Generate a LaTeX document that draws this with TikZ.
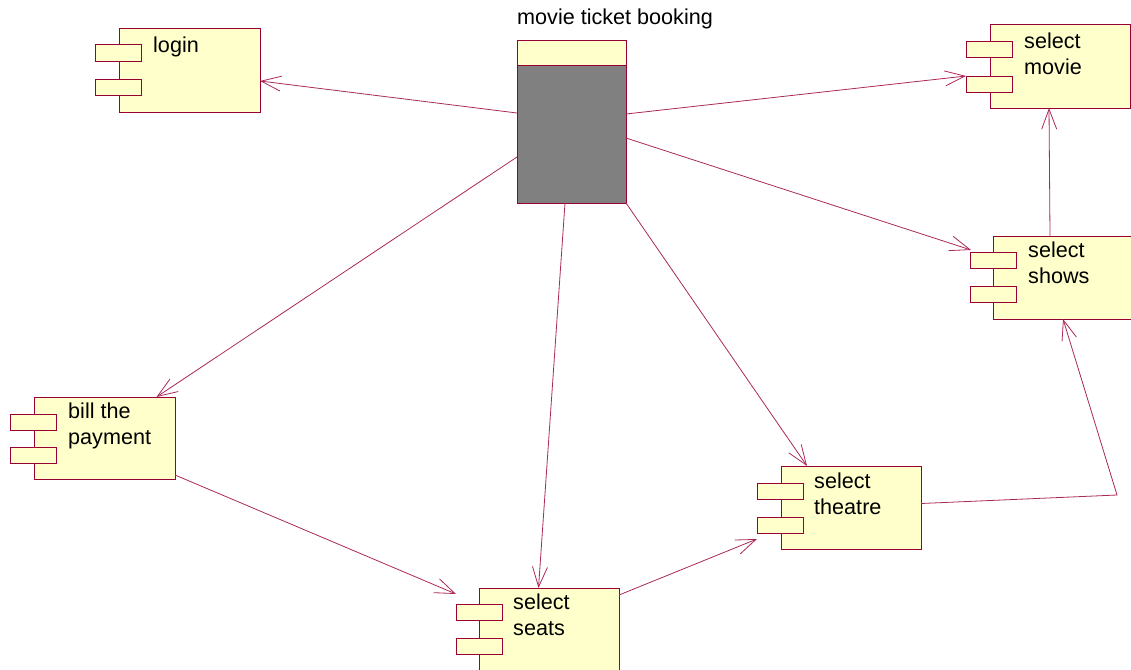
\documentclass[tikz,border=0pt]{standalone}
\usepackage{fontspec}
\setmainfont{Liberation Sans}
\usetikzlibrary{arrows.meta,calc}
\definecolor{boxc}{RGB}{255,255,204}
\definecolor{bordc}{RGB}{153,0,51}
\definecolor{linec}{RGB}{170,40,90}
\definecolor{greyc}{RGB}{128,128,128}
\newcommand\lbfont{\fontsize{21.6}{26}\selectfont}
\begin{document}
\begin{tikzpicture}[x=1pt,y=-1pt,
  comp/.style={draw=bordc, fill=boxc, line width=1pt, inner sep=0pt, outer sep=0pt, anchor=north west, minimum width=141pt, minimum height=83pt},
  port/.style={draw=bordc, fill=boxc, line width=1pt, inner sep=0pt, outer sep=0pt, anchor=north west, minimum width=46pt, minimum height=16pt},
  lbl/.style={anchor=north west, inner sep=0pt, align=left, font=\lbfont},
  conn/.style={draw=linec, line width=0.8pt, -{Straight Barb[length=20pt,width=15pt]}}]
\useasboundingbox (0,0) rectangle (1131,669);
\begin{scope}
\clip (0,0) rectangle (1131,669);
% login
\node[comp] (login) at (119,29) {};
\node[port] (loginp1) at (95,45) {};
\node[port] (loginp2) at (95,79) {};
\node[lbl] (loginl) at (153,36.5) {login};
% select movie
\node[comp, minimum width=140pt] (movie) at (990,25) {};
\node[port] (moviep1) at (966,42) {};
\node[port] (moviep2) at (966,76) {};
\node[lbl] (moviel) at (1024,32.5) {select\\movie};
% select shows
\node[comp] (shows) at (993,236) {};
\node[port] (showsp1) at (970,252) {};
\node[port] (showsp2) at (970,286) {};
\node[lbl] (showsl) at (1028,241.5) {select\\shows};
% bill the payment
\node[comp, minimum height=82pt] (bill) at (34,397) {};
\node[port] (billp1) at (10,414) {};
\node[port] (billp2) at (10,447) {};
\node[lbl] (billl) at (68,402.5) {bill the\\payment};
% select seats
\node[comp, minimum width=140pt] (seats) at (479,588) {};
\node[port] (seatsp1) at (456,604) {};
\node[port] (seatsp2) at (456,638) {};
\node[lbl] (seatsl) at (513,593.5) {select\\seats};
% select theatre
\node[comp, minimum width=140pt] (theatre) at (781,466) {};
\node[port] (theatrep1) at (757,483) {};
\node[port] (theatrep2) at (757,517) {};
\node[lbl] (theatrel) at (814,472.5) {select\\theatre};
% movie ticket booking
\node[draw=bordc, fill=greyc, line width=1pt, inner sep=0pt, outer sep=0pt, anchor=north west, minimum width=109pt, minimum height=162pt] (mtb) at (517,41) {};
\node[draw=bordc, fill=boxc, line width=1pt, inner sep=0pt, outer sep=0pt, anchor=north west, minimum width=109pt, minimum height=24pt] (mtbtop) at (517,41) {};
\node[anchor=base west, inner sep=0pt, font=\lbfont] (mtbl) at (517,25) {movie ticket booking};
% connectors
\draw[conn] ($(mtb.west)+(0,-9)$) -- ($(login.east)+(0,10.5)$);
\draw[conn] ($(mtb.east)+(0,-8)$) -- (moviep2.north west);
\draw[conn] ($(mtb.east)+(0,16)$) -- ($(showsp1.north west)+(1,-2)$);
\draw[conn] ($(mtb.west)+(0,35)$) -- ($(bill.north)+(52,0)$);
\draw[conn] ($(mtb.south)+(-6.5,0)$) -- ($(seats.north)+(-10.5,0)$);
\draw[conn] (mtb.south east) -- ($(theatre.north west)+(26,0)$);
\draw[conn] ($(bill.south east)+(0,-4)$) -- ($(seatsp1.north west)+(0,-10)$);
\draw[conn] ($(seats.north east)+(0,7)$) -- ($(theatrep2.south west)+(0,6)$);
\coordinate (bend) at (1117,495);
\draw[conn] ($(theatre.east)+(0,-4)$) -- (bend) -- ($(shows.south west)+(70,0)$);
\draw[conn] ($(shows.north west)+(57,0)$) -- ($(movie.south west)+(59,0)$);
\end{scope}
\end{tikzpicture}
\end{document}
